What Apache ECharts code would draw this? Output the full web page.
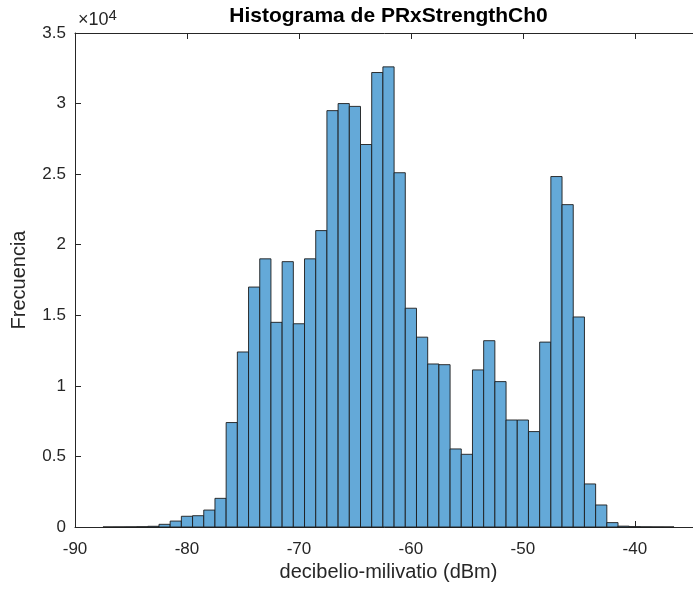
<!DOCTYPE html>
<html>
<head>
<meta charset="utf-8">
<script src="https://cdn.jsdelivr.net/npm/echarts@6/dist/echarts.min.js"></script>
<style>
html,body{margin:0;padding:0;background:#fff;}
#chart{width:693px;height:590px;}
</style>
</head>
<body>
<div id="chart"></div>
<script>
// Bin centres (dBm, bin width 1)
const binCenters = [-87,-86,-85,-84,-83,-82,-81,-80,-79,-78,-77,-76,-75,-74,-73,-72,-71,-70,-69,-68,-67,-66,-65,-64,-63,-62,-61,-60,-59,-58,-57,-56,-55,-54,-53,-52,-51,-50,-49,-48,-47,-46,-45,-44,-43,-42,-41,-40,-39,-38,-37];
// Counts per bin
const counts = [3,6,10,20,50,190,420,760,800,1200,2030,7400,12400,17000,19000,14500,18800,14400,19000,21000,29500,30000,29800,27100,32200,32600,25100,15500,13450,11550,11500,5530,5150,11130,13200,10300,7580,7580,6760,13100,24830,22840,14880,3050,1560,310,60,25,12,6,3];
const binWidth = 1;
const xTicks = [-90,-80,-70,-60,-50,-40];
const yTicks = [0,5000,10000,15000,20000,25000,30000,35000];

const chartTitle = 'Histograma de PRxStrengthCh0';
const xName = 'decibelio-milivatio (dBm)';
const yName = 'Frecuencia';

const data = binCenters.map((c, i) => [c, counts[i]]);

const FONT = '"Liberation Sans", Arial, Helvetica, sans-serif';
const AX = '#262626';
const gridLeft = 75, gridTop = 33, gridWidth = 627, gridHeight = 494;

const chart = echarts.init(document.getElementById('chart'), null, {renderer: 'canvas'});
chart.setOption({
  animation: false,
  backgroundColor: '#fff',
  title: {
    text: chartTitle,
    left: gridLeft + gridWidth / 2 - 5,
    textAlign: 'center',
    top: 1,
    textStyle: {fontFamily: FONT, fontSize: 21, fontWeight: 'bold', color: '#000'}
  },
  graphic: [{
    type: 'text',
    left: 78,
    top: 8,
    style: {
      text: '×10{s|4}',
      rich: {s: {fontSize: 15, fontFamily: FONT, fill: AX, verticalAlign: 'top', padding: [0,0,9,0]}},
      font: '18px ' + FONT,
      fill: AX
    }
  }],
  grid: {left: gridLeft, top: gridTop, width: gridWidth, height: gridHeight, containLabel: false, outerBoundsMode: 'none'},
  xAxis: [{
    type: 'value',
    min: -90, max: -34, interval: 10,
    position: 'bottom',
    name: xName, nameLocation: 'middle', nameGap: 35,
    nameTextStyle: {fontFamily: FONT, fontSize: 20, color: AX},
    axisLine: {show: true, onZero: false, lineStyle: {color: AX, width: 1}},
    axisTick: {show: true, inside: true, length: 6, lineStyle: {color: AX}},
    axisLabel: {fontFamily: FONT, fontSize: 17, color: AX, margin: 14, showMaxLabel: false,
      formatter: v => (xTicks.indexOf(v) >= 0 ? String(v) : '')},
    splitLine: {show: false}
  }, {
    type: 'value',
    min: -90, max: -34, interval: 10,
    position: 'top',
    axisLine: {show: true, onZero: false, lineStyle: {color: AX, width: 1}},
    axisTick: {show: true, inside: true, length: 6, lineStyle: {color: AX}},
    axisLabel: {show: false},
    splitLine: {show: false}
  }],
  yAxis: [{
    type: 'value',
    min: 0, max: 35000, interval: 5000,
    name: yName, nameLocation: 'middle', nameGap: 46,
    nameTextStyle: {fontFamily: FONT, fontSize: 20, color: AX},
    axisLine: {show: true, onZero: false, lineStyle: {color: AX, width: 1}},
    axisTick: {show: true, inside: true, length: 6, lineStyle: {color: AX}},
    axisLabel: {fontFamily: FONT, fontSize: 17, color: AX, margin: 9,
      formatter: v => (yTicks.indexOf(v) >= 0 ? String(v / 10000) : '')},
    splitLine: {show: false}
  }],
  series: [{
    type: 'custom',
    xAxisIndex: 0, yAxisIndex: 0,
    data: data,
    encode: {x: 0, y: 1},
    renderItem: function (params, api) {
      const c = api.value(0), v = api.value(1);
      const p0 = api.coord([c - binWidth / 2, v]);
      const p1 = api.coord([c + binWidth / 2, 0]);
      return {
        type: 'rect',
        shape: {x: p0[0], y: p0[1], width: p1[0] - p0[0], height: p1[1] - p0[1]},
        style: {fill: '#64a9d8', stroke: '#1c1c1c', lineWidth: 0.9}
      };
    }
  }]
});
</script>
</body>
</html>
